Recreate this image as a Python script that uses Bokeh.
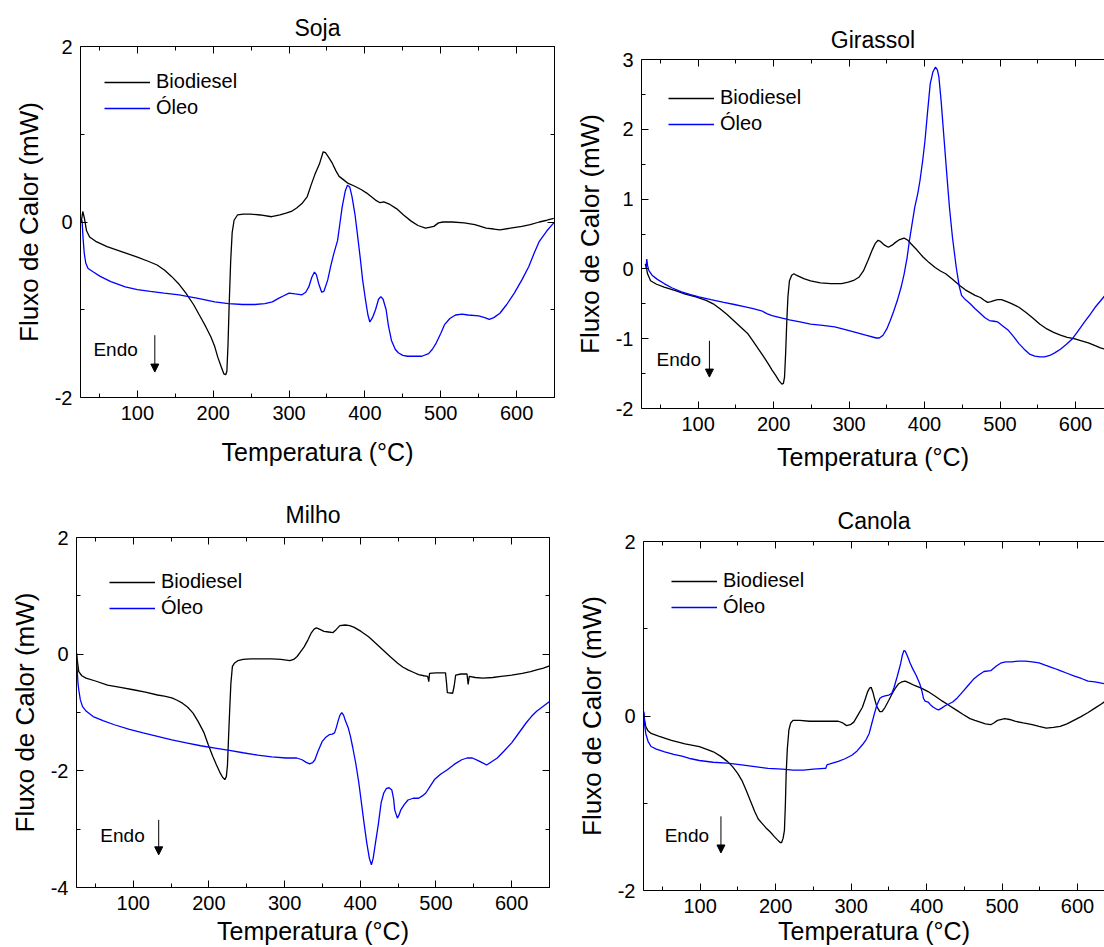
from bokeh.plotting import figure
from bokeh.layouts import column, row
from bokeh.models import (FixedTicker, LinearAxis, Range1d, Legend, LegendItem,
                          Arrow, NormalHead, CustomLabelingPolicy)
from bokeh.core.properties import value
from bokeh.embed import file_html
from bokeh.resources import INLINE

FONT = "Liberation Sans"

# ---------------- data (temperature in °C, heat flow in mW) ----------------
soja_bio_t = [26, 28, 30, 33, 37, 45, 60, 80, 100, 115, 126, 136, 145, 155, 164, 174, 183, 190, 197, 202, 206, 211, 214, 216.5, 218, 219.5, 221, 223, 225, 227.5, 232, 240, 249, 262, 277, 288, 296, 303, 310, 317, 324, 329, 334, 340, 345, 348, 352, 357, 362, 366, 372, 378, 386, 395, 404, 414, 420, 425, 433, 442, 451, 461, 470, 480, 485, 491, 497, 503, 515, 531, 545, 560, 570, 578, 592, 607, 618, 630, 640, 649]
soja_bio_v = [0.0, 0.12, 0.05, -0.10, -0.17, -0.22, -0.28, -0.34, -0.40, -0.45, -0.49, -0.55, -0.62, -0.71, -0.81, -0.94, -1.08, -1.19, -1.31, -1.42, -1.54, -1.66, -1.73, -1.74, -1.70, -1.40, -0.95, -0.45, -0.12, 0.02, 0.08, 0.09, 0.09, 0.08, 0.06, 0.08, 0.10, 0.12, 0.16, 0.21, 0.29, 0.42, 0.54, 0.66, 0.80, 0.79, 0.74, 0.67, 0.58, 0.52, 0.48, 0.44, 0.41, 0.37, 0.32, 0.25, 0.22, 0.23, 0.20, 0.15, 0.08, 0.01, -0.04, -0.07, -0.06, -0.05, -0.01, 0.00, 0.0, -0.01, -0.03, -0.07, -0.08, -0.09, -0.07, -0.05, -0.03, 0.00, 0.02, 0.04]

soja_oleo_t = [27, 28.5, 30, 32, 35, 42, 51, 65, 84, 100, 117, 135, 155, 180, 202, 220, 239, 255, 268, 278, 286, 293, 300, 308, 317, 322, 326, 330, 333.5, 336, 339, 343, 346, 351, 355, 359, 364, 367, 370, 374, 377, 380, 383, 387, 390, 394, 397, 401, 404, 406.5, 410, 414, 418, 421, 424, 428, 431, 435, 440, 444, 450, 456, 466, 475, 484, 489, 494, 500, 505, 512, 519.5, 528, 536, 550, 558, 564, 570, 578, 587, 597, 607, 616, 623, 630, 640, 649]
soja_oleo_v = [0.02, -0.20, -0.36, -0.47, -0.53, -0.57, -0.62, -0.68, -0.74, -0.77, -0.79, -0.81, -0.83, -0.87, -0.91, -0.93, -0.94, -0.94, -0.93, -0.91, -0.87, -0.84, -0.81, -0.82, -0.83, -0.80, -0.74, -0.63, -0.57, -0.60, -0.70, -0.80, -0.79, -0.66, -0.50, -0.36, -0.21, -0.02, 0.17, 0.35, 0.42, 0.40, 0.29, 0.08, -0.13, -0.42, -0.66, -0.90, -1.06, -1.14, -1.09, -1.00, -0.88, -0.85, -0.88, -1.00, -1.18, -1.35, -1.45, -1.49, -1.52, -1.53, -1.53, -1.53, -1.50, -1.45, -1.38, -1.27, -1.17, -1.10, -1.06, -1.05, -1.06, -1.07, -1.09, -1.11, -1.09, -1.04, -0.94, -0.81, -0.66, -0.51, -0.36, -0.22, -0.10, -0.01]

gira_bio_t = [30, 31.5, 33, 37, 45, 55, 70, 83, 97, 110.6, 120, 129, 138, 147, 157, 166, 173, 180, 187, 193, 198, 203, 207, 211, 213, 214.5, 216, 217.5, 219, 221, 224, 227, 230, 240, 249, 262, 276, 290, 299, 307, 313, 319, 325, 331, 335, 338.5, 342, 347, 352, 357, 361.5, 367, 373, 378, 382, 390, 398, 406, 414, 421, 428, 437, 447, 454, 460.5, 467, 474, 479, 483.5, 488, 493, 497, 502, 509, 516, 525, 534, 543, 552.5, 562, 571, 580, 589, 598, 608, 617, 626, 633, 639, 650]
gira_bio_v = [0.07, 0.02, -0.07, -0.17, -0.22, -0.26, -0.31, -0.36, -0.40, -0.45, -0.50, -0.57, -0.65, -0.74, -0.84, -0.93, -1.04, -1.15, -1.26, -1.36, -1.45, -1.53, -1.60, -1.65, -1.64, -1.55, -1.20, -0.75, -0.40, -0.17, -0.09, -0.07, -0.09, -0.14, -0.17, -0.20, -0.21, -0.21, -0.19, -0.16, -0.12, -0.03, 0.12, 0.28, 0.37, 0.41, 0.39, 0.34, 0.31, 0.34, 0.38, 0.42, 0.44, 0.41, 0.36, 0.27, 0.17, 0.09, 0.02, -0.03, -0.07, -0.15, -0.24, -0.30, -0.34, -0.38, -0.41, -0.45, -0.48, -0.47, -0.45, -0.44, -0.44, -0.47, -0.50, -0.55, -0.62, -0.70, -0.79, -0.86, -0.91, -0.95, -0.98, -1.00, -1.03, -1.06, -1.10, -1.13, -1.15, -1.18]

gira_oleo_t = [31, 32, 33, 34.6, 39, 46, 55, 65, 78, 90, 101, 117, 134, 148, 161, 173, 184, 191, 198, 210, 221, 235, 249, 265, 281, 295, 308.6, 322, 336, 340, 345, 350, 354.6, 359, 364, 369, 373, 377, 380, 384, 387, 391, 394, 397.5, 400.6, 404, 407.5, 411, 414.5, 417, 419, 422, 426, 429.5, 433, 437, 442, 446, 449, 454, 460.5, 467, 474, 480, 486, 492, 497, 504, 511, 518, 525, 532, 539, 546, 552.6, 559, 566, 573, 580, 588, 596, 604, 612, 619, 626, 633, 639, 650]
gira_oleo_v = [0.00, 0.14, 0.05, -0.02, -0.09, -0.15, -0.21, -0.27, -0.33, -0.37, -0.40, -0.44, -0.48, -0.51, -0.54, -0.57, -0.60, -0.64, -0.67, -0.70, -0.73, -0.76, -0.79, -0.81, -0.83, -0.87, -0.91, -0.95, -0.99, -0.99, -0.95, -0.86, -0.74, -0.61, -0.45, -0.26, -0.07, 0.17, 0.41, 0.68, 0.88, 1.08, 1.27, 1.55, 1.84, 2.25, 2.65, 2.82, 2.89, 2.85, 2.75, 2.40, 1.84, 1.35, 0.88, 0.45, 0.02, -0.25, -0.38, -0.44, -0.50, -0.57, -0.64, -0.70, -0.74, -0.75, -0.76, -0.82, -0.88, -0.97, -1.07, -1.15, -1.22, -1.25, -1.26, -1.26, -1.24, -1.20, -1.15, -1.08, -1.00, -0.88, -0.76, -0.66, -0.55, -0.46, -0.38, -0.26]

milho_bio_t = [25, 26.5, 28, 32, 37.6, 50, 66, 83, 100, 116, 132, 141, 151, 158, 165, 172, 179, 186, 193.6, 199, 205, 210, 215, 218, 221, 223, 224.5, 226, 227.6, 229, 231, 234, 238.5, 245, 255, 270, 283, 295, 307, 312, 316.5, 321, 326, 331, 335, 339, 342, 346, 352, 358, 364, 368, 373, 380, 386, 392, 401, 411, 420, 430, 440, 449, 456, 463, 470, 477, 484, 489, 490.5, 491.5, 500, 512.6, 514, 515, 522, 524, 526, 533, 541, 542.5, 544, 552, 562, 575, 586, 600, 614, 625, 633, 642, 650]
milho_bio_v = [0.02, -0.15, -0.30, -0.37, -0.41, -0.46, -0.53, -0.57, -0.61, -0.65, -0.70, -0.72, -0.75, -0.79, -0.84, -0.91, -1.01, -1.16, -1.35, -1.55, -1.75, -1.90, -2.04, -2.11, -2.15, -2.10, -1.90, -1.40, -0.90, -0.50, -0.21, -0.15, -0.11, -0.09, -0.08, -0.08, -0.08, -0.09, -0.11, -0.09, -0.04, 0.04, 0.13, 0.25, 0.36, 0.43, 0.45, 0.43, 0.39, 0.38, 0.37, 0.42, 0.49, 0.50, 0.49, 0.46, 0.39, 0.30, 0.19, 0.07, -0.05, -0.15, -0.22, -0.27, -0.31, -0.35, -0.37, -0.38, -0.47, -0.33, -0.32, -0.32, -0.50, -0.66, -0.67, -0.55, -0.36, -0.34, -0.34, -0.52, -0.38, -0.40, -0.41, -0.40, -0.38, -0.36, -0.33, -0.30, -0.27, -0.24, -0.20]

milho_oleo_t = [25, 26, 27, 28, 30, 33, 38, 47, 60, 75, 95, 113, 132, 151, 170, 189, 208, 227, 245, 264.5, 283, 302, 316, 323, 328, 333, 337, 340, 344, 349.5, 354, 359, 363, 366, 368.5, 371, 373, 375.5, 378, 380, 384, 387, 390, 394, 398, 401.5, 405, 408.6, 412, 414.7, 417, 420, 424, 427.5, 431, 434.6, 438, 441.7, 444, 445.5, 449, 451, 453.5, 458, 463, 470, 477, 482, 486.6, 492, 498, 506, 515, 524, 534, 541, 548, 555, 561, 567, 574, 581, 590, 600, 609, 619, 626, 633, 640, 647, 650]
milho_oleo_v = [0.02, -0.30, -0.50, -0.61, -0.78, -0.90, -0.98, -1.07, -1.14, -1.21, -1.29, -1.35, -1.41, -1.47, -1.52, -1.57, -1.61, -1.65, -1.69, -1.73, -1.76, -1.78, -1.78, -1.81, -1.85, -1.88, -1.86, -1.81, -1.67, -1.50, -1.43, -1.38, -1.37, -1.35, -1.25, -1.13, -1.05, -1.00, -1.05, -1.13, -1.26, -1.41, -1.60, -1.87, -2.20, -2.55, -2.90, -3.24, -3.50, -3.61, -3.50, -3.24, -2.90, -2.55, -2.38, -2.30, -2.29, -2.33, -2.48, -2.67, -2.81, -2.76, -2.67, -2.58, -2.50, -2.47, -2.47, -2.43, -2.38, -2.27, -2.15, -2.06, -1.98, -1.89, -1.81, -1.78, -1.78, -1.82, -1.86, -1.90, -1.84, -1.78, -1.66, -1.52, -1.36, -1.18, -1.07, -0.98, -0.91, -0.84, -0.81]

canola_bio_t = [25.5, 26.5, 28, 31, 35, 45, 62, 80, 99, 108, 117.5, 127, 136, 143, 150, 156, 161, 167, 172.6, 177, 182, 187, 193, 198, 202.5, 206, 208, 210, 211.7, 213, 214, 215.5, 217.6, 220, 223, 232, 245, 260, 275, 283, 289, 294, 299, 303.6, 309, 315, 319, 322, 324.5, 326.6, 329, 331, 334, 338, 341, 345, 350, 354, 358, 363, 367, 371.6, 377, 384, 393, 402, 411, 421, 430, 439, 448, 457.5, 464, 471, 478, 485, 489, 494, 503.5, 510, 517, 528, 540, 549, 558.6, 568, 577, 586, 595, 604, 614, 623, 632, 640, 650]
canola_bio_v = [0.03, -0.05, -0.12, -0.17, -0.20, -0.23, -0.28, -0.32, -0.35, -0.38, -0.41, -0.46, -0.52, -0.58, -0.66, -0.75, -0.85, -0.98, -1.10, -1.18, -1.23, -1.28, -1.33, -1.38, -1.42, -1.45, -1.45, -1.40, -1.31, -1.00, -0.66, -0.38, -0.16, -0.08, -0.05, -0.05, -0.06, -0.06, -0.06, -0.06, -0.08, -0.11, -0.10, -0.07, 0.01, 0.10, 0.20, 0.28, 0.32, 0.33, 0.27, 0.20, 0.11, 0.05, 0.05, 0.10, 0.18, 0.25, 0.31, 0.37, 0.39, 0.40, 0.38, 0.35, 0.32, 0.28, 0.23, 0.17, 0.12, 0.07, 0.02, -0.03, -0.05, -0.07, -0.09, -0.10, -0.08, -0.05, -0.03, -0.04, -0.06, -0.08, -0.10, -0.12, -0.14, -0.13, -0.12, -0.09, -0.05, -0.01, 0.04, 0.09, 0.14, 0.19, 0.25]

canola_oleo_t = [25.5, 26.5, 28, 31, 35, 42, 53, 65, 76, 88, 99, 117, 136, 155, 172.6, 190, 209, 223, 237, 250, 264.5, 266.5, 268, 272, 283, 292, 301, 308, 315, 320, 324, 327, 331, 334, 338, 341, 345, 350, 354, 357, 361, 363.5, 365.6, 368, 370, 372, 375, 378, 381.7, 386, 391, 394, 396, 398, 402, 405, 409, 413, 416, 420, 425, 430, 434.6, 441, 448, 455, 462, 469, 476, 485, 492, 499, 505, 512.7, 522, 531, 540, 549, 558, 568, 577, 586, 595, 605, 614, 623, 630, 636, 650]
canola_oleo_v = [0.05, -0.10, -0.20, -0.29, -0.35, -0.38, -0.41, -0.44, -0.46, -0.49, -0.51, -0.53, -0.54, -0.56, -0.58, -0.60, -0.61, -0.62, -0.62, -0.61, -0.60, -0.60, -0.56, -0.55, -0.52, -0.49, -0.45, -0.40, -0.33, -0.27, -0.20, -0.10, 0.03, 0.12, 0.20, 0.22, 0.23, 0.24, 0.26, 0.33, 0.45, 0.53, 0.60, 0.70, 0.75, 0.74, 0.68, 0.61, 0.54, 0.47, 0.37, 0.28, 0.20, 0.17, 0.16, 0.13, 0.10, 0.08, 0.07, 0.09, 0.12, 0.14, 0.16, 0.21, 0.28, 0.35, 0.42, 0.47, 0.51, 0.52, 0.57, 0.61, 0.62, 0.62, 0.63, 0.63, 0.62, 0.61, 0.58, 0.55, 0.52, 0.49, 0.46, 0.43, 0.40, 0.39, 0.38, 0.37, 0.35]

series_names = ["Biodiesel", "Óleo"]
x_major = [100, 200, 300, 400, 500, 600]
x_minor = [50, 150, 250, 350, 450, 550, 650]
x_title = "Temperatura (°C)"
y_title = "Fluxo de Calor (mW)"

NO_LABELS = "return new Set()"


def style_axis(ax, show_labels):
    ax.axis_line_color = "black"
    ax.axis_line_width = 1
    ax.major_tick_in = 7
    ax.major_tick_out = 0
    ax.minor_tick_in = 4
    ax.minor_tick_out = 0
    ax.major_tick_line_color = "black"
    ax.minor_tick_line_color = "black"
    if show_labels:
        ax.major_label_text_font = FONT
        ax.major_label_text_font_size = "20px"
        ax.major_label_text_color = "black"
        ax.major_label_standoff = 8
        ax.axis_label_text_font = FONT
        ax.axis_label_text_font_style = "normal"
        ax.axis_label_text_color = "black"
    else:
        ax.major_label_text_font_size = "0px"
        ax.major_label_standoff = 0
        ax.major_label_policy = CustomLabelingPolicy(code=NO_LABELS)


def panel(title, bt, bv, ot, ov, x_end, y_lo, y_hi, y_major, y_minor,
          width, height, bl, br, bt_, bb, right_axis, leg_margin,
          endo_xy, arrow_x, arrow_y0, arrow_y1, xlab_standoff, title_standoff):
    p = figure(width=width, height=height, output_backend="svg",
               toolbar_location=None, tools="",
               x_range=Range1d(25, x_end), y_range=Range1d(y_lo, y_hi),
               x_axis_location=None, y_axis_location=None,
               min_border_left=bl, min_border_right=br,
               min_border_top=bt_, min_border_bottom=bb,
               outline_line_color=None, background_fill_color="white",
               border_fill_color="white")
    p.xgrid.visible = False
    p.ygrid.visible = False

    xt = FixedTicker(ticks=x_major, minor_ticks=x_minor)
    yt = FixedTicker(ticks=y_major, minor_ticks=y_minor)
    ylab = {v: str(v) for v in y_major}

    bx = LinearAxis(ticker=xt, axis_label=x_title)
    style_axis(bx, True)
    bx.axis_label_text_font_size = "25px"
    bx.axis_label_standoff = xlab_standoff
    p.add_layout(bx, "below")
    ax_top = LinearAxis(ticker=xt)
    style_axis(ax_top, False)
    p.add_layout(ax_top, "above")

    ly = LinearAxis(ticker=yt, axis_label=y_title, major_label_overrides=ylab)
    style_axis(ly, True)
    ly.axis_label_text_font_size = "26px"
    ly.axis_label_standoff = 8
    p.add_layout(ly, "left")
    if right_axis:
        ry = LinearAxis(ticker=yt)
        style_axis(ry, False)
        p.add_layout(ry, "right")

    r1 = p.line(bt, bv, line_color="black", line_width=1.3)
    r2 = p.line(ot, ov, line_color="#0000ff", line_width=1.3)

    leg = Legend(items=[LegendItem(label=series_names[0], renderers=[r1]),
                        LegendItem(label=series_names[1], renderers=[r2])],
                 location="top_left", border_line_color=None,
                 background_fill_alpha=0, label_text_font=FONT,
                 label_text_font_size="20px", label_text_color="black",
                 glyph_width=46, glyph_height=22, label_height=22,
                 spacing=3, padding=0, margin=leg_margin, label_standoff=6)
    p.add_layout(leg)

    p.text(x=[endo_xy[0]], y=[endo_xy[1]], text=["Endo"],
           text_font=value(FONT), text_font_size="19px",
           text_baseline="middle", text_align="left", text_color="black")
    p.add_layout(Arrow(end=NormalHead(size=8, fill_color="black", line_color="black"),
                       x_start=arrow_x, y_start=arrow_y0, x_end=arrow_x, y_end=arrow_y1,
                       line_color="black", line_width=1))

    p.title.text = title
    p.title.align = "center"
    p.title.text_font = FONT
    p.title.text_font_size = "23px"
    p.title.text_font_style = "normal"
    p.title.text_color = "black"
    p.title.standoff = title_standoff
    return p


p1 = panel("Soja", soja_bio_t, soja_bio_v, soja_oleo_t, soja_oleo_v,
           650, -2, 2, [-2, 0, 2], [-1, 1],
           560, 476, 80, 6, 46, 79, True, 24,
           (42, -1.45), 123, -1.29, -1.71, 15, 11)
p2 = panel("Girassol", gira_bio_t, gira_bio_v, gira_oleo_t, gira_oleo_v,
           638.4, -2, 3, [-2, -1, 0, 1, 2, 3], [-1.5, -0.5, 0.5, 1.5, 2.5],
           544, 476, 81, 0, 59, 68, False, 27,
           (45, -1.30), 115, -1.03, -1.55, 9, 14)
p3 = panel("Milho", milho_bio_t, milho_bio_v, milho_oleo_t, milho_oleo_v,
           650, -4, 2, [-4, -2, 0, 2], [-3, -1, 1],
           560, 471, 76, 11, 61, 59, True, 33,
           (56.5, -3.11), 133.6, -2.84, -3.44, 4, 19)
p4 = panel("Canola", canola_bio_t, canola_bio_v, canola_oleo_t, canola_oleo_v,
           635.7, -2, 2, [-2, 0, 2], [-1, 1],
           544, 471, 83, 0, 65, 56, False, 28,
           (53, -1.37), 127.6, -1.15, -1.57, 1, 15)

layout = column(row(column(p1), column(p2)), row(column(p3), column(p4)))

with open("out.html", "w") as f:
    f.write(file_html(layout, INLINE))
